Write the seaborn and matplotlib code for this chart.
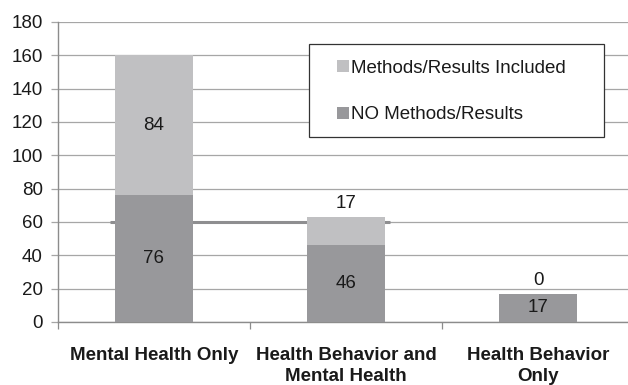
import matplotlib
matplotlib.use("Agg")
import matplotlib.pyplot as plt
import seaborn as sns
import pandas as pd
from matplotlib.patches import Patch, Rectangle

categories = ["Mental Health Only", "Health Behavior and\nMental Health", "Health Behavior\nOnly"]
no_methods = [76, 46, 17]
methods_included = [84, 17, 0]
ref_line_value = 60

totals = [a + b for a, b in zip(no_methods, methods_included)]
df = pd.DataFrame({"cat": categories, "no": no_methods, "inc": methods_included, "total": totals})

sns.set_theme(style="white")
plt.rcParams['font.family'] = ['Liberation Sans', 'DejaVu Sans']

light = "#c0c0c2"
dark = "#98989b"
gridc = "#a6a6a6"
txt = "#1a1a1a"
FS = 13.5

W, H = 628, 385
fig = plt.figure(figsize=(W / 100, H / 100), dpi=100)
ax = fig.add_axes([58/W, 63/H, 1 - 58/W + 6/W, 300/H])

sns.barplot(data=df, x="cat", y="total", color=light, width=0.405, saturation=1,
            linewidth=0, edgecolor="none", ax=ax, zorder=3)
sns.barplot(data=df, x="cat", y="no", color=dark, width=0.405, saturation=1,
            linewidth=0, edgecolor="none", ax=ax, zorder=4)

ax.set_ylim(0, 180)
ax.set_xlim(-0.5, 2.5)
ax.set_yticks(range(0, 181, 20))
ax.yaxis.grid(True, color=gridc, linewidth=0.9, zorder=0)
ax.set_axisbelow(True)
ax.hlines(ref_line_value, -0.23, 1.23, color="#8e8e90", linewidth=2.2, zorder=2)

for s in ["top", "right"]:
    ax.spines[s].set_visible(False)
for s in ["left", "bottom"]:
    ax.spines[s].set_color("#8c8c8c")
    ax.spines[s].set_linewidth(1.0)

ax.set_xlabel("")
ax.set_ylabel("")
ax.tick_params(axis="y", which="both", left=True, length=5, width=0.9, color=gridc,
               labelsize=FS, labelcolor=txt, pad=6)
ax.set_xticks([0, 1, 2])
ax.set_xticklabels(categories, fontsize=FS, fontweight="bold", color=txt, linespacing=1.3)
ax.tick_params(axis="x", bottom=False, pad=12)
ax.set_xticks([-0.5, 0.5, 1.5], minor=True)
ax.tick_params(axis="x", which="minor", bottom=True, length=5, width=0.9, color="#8c8c8c")

for i in range(len(categories)):
    ax.text(i, no_methods[i] / 2, str(no_methods[i]), ha="center", va="center",
            fontsize=FS, color=txt, zorder=6)
    if methods_included[i] > 30:
        ax.text(i, no_methods[i] + methods_included[i] / 2, str(methods_included[i]),
                ha="center", va="center", fontsize=FS, color=txt, zorder=6)
    else:
        ax.text(i, totals[i] + 3, str(methods_included[i]), ha="center", va="bottom",
                fontsize=FS, color=txt, zorder=6)

# legend frame
fig.patches.append(Rectangle((309/W, 1 - 137/H), (604 - 309)/W, (137 - 44)/H,
                             transform=fig.transFigure, facecolor="white",
                             edgecolor="#333333", linewidth=0.9, zorder=4))
handles = [Patch(facecolor=light, edgecolor="none", label="Methods/Results Included"),
           Patch(facecolor=dark, edgecolor="none", label="NO Methods/Results")]
leg = fig.legend(handles=handles, loc="upper left", bbox_to_anchor=(337/W, 1 - 60/H),
                 fontsize=FS, frameon=False, labelcolor=txt,
                 handlelength=0.62, handleheight=0.62, handletextpad=0.15,
                 labelspacing=1.57, borderpad=0, borderaxespad=0)
leg.set_zorder(10)

fig.savefig("out.png", dpi=100)
